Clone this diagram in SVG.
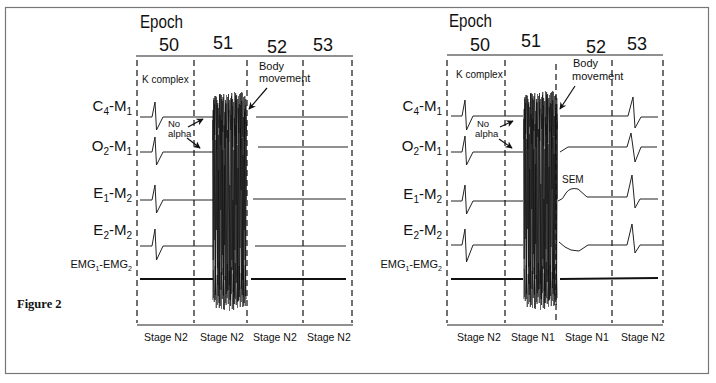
<svg xmlns="http://www.w3.org/2000/svg" xmlns:xlink="http://www.w3.org/1999/xlink" width="716" height="383" viewBox="0 0 716 383">
<style>
.t{font-family:"Liberation Sans",Arial,sans-serif;fill:#111}
.ep{font-size:18px}
.ch{font-size:15px}
.sub{font-size:10px}
.st{font-size:10.5px}
.lb{font-size:10px}
.dash{stroke:#111;stroke-width:1.2;stroke-dasharray:6,4;fill:none}
.ax{stroke:#222;stroke-width:1.2;fill:none}
.tr{stroke:#222;stroke-width:1;fill:none;stroke-linejoin:round}
.emg{stroke:#111;stroke-width:2;fill:none}
.arr{stroke:#111;stroke-width:1.2;fill:none;marker-end:url(#ah)}
.bz{stroke:#111;fill:none;stroke-width:0.6;stroke-linejoin:bevel}
</style>
<defs>
<marker id="ah" viewBox="0 0 10 10" refX="9" refY="5" markerWidth="6" markerHeight="6" orient="auto"><path d="M0,0 L10,5 L0,10 L3,5 z" fill="#111"/></marker>
<g id="burst">
<path class="bz" style="stroke-width:0.4" d="M0,110 L1,298 L2,104 L3,292 L4,97 L5,305 L6,108 L7,289 L8,94 L9,309 L10,101 L11,296 L12,112 L13,303 L14,95 L15,291 L16,103 L17,311 L18,98 L19,294 L20,106 L21,304 L22,92 L23,299 L24,100 L25,308 L26,96 L27,290 L28,105 L29,302 L30,93 L31,297 L32,109 L33,306 L34,115"/>
<path class="bz" d="M0,120 L0.7,260 L1.4,98 L2,190 L2.7,300 L3.4,140 L4.1,230 L4.8,105 L5.4,285 L6.1,170 L6.8,308 L7.5,115 L8.2,210 L8.8,95 L9.5,275 L10.2,150 L10.9,295 L11.6,125 L12.2,245 L12.9,100 L13.6,305 L14.3,180 L15,130 L15.6,290 L16.3,110 L17,220 L17.7,300 L18.4,160 L19,96 L19.7,270 L20.4,200 L21.1,310 L21.8,118 L22.4,250 L23.1,93 L23.8,283 L24.5,145 L25.2,302 L25.8,108 L26.5,235 L27.2,297 L27.9,128 L28.6,190 L29.2,92 L29.9,280 L30.6,155 L31.3,306 L32,112 L32.6,260 L33.3,99 L34,200"/>
<path class="bz" d="M0.3,300 L1,110 L1.7,240 L2.4,96 L3.1,295 L3.7,175 L4.4,100 L5.1,268 L5.8,135 L6.5,303 L7.1,94 L7.8,215 L8.5,290 L9.2,120 L9.9,255 L10.5,97 L11.2,309 L11.9,165 L12.6,280 L13.3,103 L13.9,225 L14.6,298 L15.3,140 L16,94 L16.7,285 L17.3,185 L18,306 L18.7,115 L19.4,260 L20.1,99 L20.7,292 L21.4,150 L22.1,304 L22.8,125 L23.5,205 L24.1,95 L24.8,277 L25.5,168 L26.2,300 L26.9,104 L27.5,248 L28.2,93 L28.9,289 L29.6,138 L30.3,307 L30.9,117 L31.6,230 L32.3,96 L33,296 L33.7,122"/>
<path class="bz" d="M0.25,140 L1.25,100 L2.25,135 L3.25,96 L4.25,150 L5.25,103 L6.25,128 L7.25,95 L8.25,145 L9.25,99 L10.25,132 L11.25,94 L12.25,148 L13.25,104 L14.25,138 L15.25,97 L16.25,142 L17.25,100 L18.25,130 L19.25,93 L20.25,147 L21.25,102 L22.25,136 L23.25,96 L24.25,144 L25.25,99 L26.25,133 L27.25,94 L28.25,149 L29.25,101 L30.25,137 L31.25,97 L32.25,141 L33.25,105 L34,130"/>
<path class="bz" d="M0.75,270 L1.75,302 L2.75,266 L3.75,308 L4.75,275 L5.75,296 L6.75,262 L7.75,306 L8.75,272 L9.75,299 L10.75,268 L11.75,310 L12.75,276 L13.75,294 L14.75,264 L15.75,304 L16.75,271 L17.75,300 L18.75,267 L19.75,309 L20.75,274 L21.75,297 L22.75,263 L23.75,305 L24.75,270 L25.75,301 L26.75,266 L27.75,307 L28.75,273 L29.75,295 L30.75,268 L31.75,303 L32.75,265 L33.75,299"/>
</g>
</defs>
<rect width="716" height="383" fill="#fff"/>
<rect x="5.5" y="7.5" width="703" height="366" fill="none" stroke="#777" stroke-width="1.2"/>

<g id="left-panel">
<g id="left-header">
<text class="t ep" x="140" y="28" textLength="43" lengthAdjust="spacingAndGlyphs">Epoch</text>
<text class="t ep" x="159" y="51">50</text>
<text class="t ep" x="213" y="49">51</text>
<text class="t ep" x="267" y="53">52</text>
<text class="t ep" x="313" y="51">53</text>
<line class="ax" x1="136" y1="56" x2="353" y2="56"/>
<line class="ax" x1="137" y1="325" x2="353" y2="325"/>
</g>
<g id="left-grid">
<line class="dash" x1="137" y1="60" x2="137" y2="323"/>
<line class="dash" x1="194" y1="60" x2="194" y2="323"/>
<line class="dash" x1="247" y1="60" x2="247" y2="323"/>
<line class="dash" x1="303" y1="60" x2="303" y2="323"/>
<line class="dash" x1="352" y1="60" x2="352" y2="323"/>
</g>
<g id="left-labels">
<text class="t ch" x="132" y="111" text-anchor="end">C<tspan class="sub" dy="4">4</tspan><tspan dy="-4">-M</tspan><tspan class="sub" dy="4">1</tspan></text>
<text class="t ch" x="132" y="151" text-anchor="end">O<tspan class="sub" dy="4">2</tspan><tspan dy="-4">-M</tspan><tspan class="sub" dy="4">1</tspan></text>
<text class="t ch" x="132" y="198" text-anchor="end">E<tspan class="sub" dy="4">1</tspan><tspan dy="-4">-M</tspan><tspan class="sub" dy="4">2</tspan></text>
<text class="t ch" x="132" y="235" text-anchor="end">E<tspan class="sub" dy="4">2</tspan><tspan dy="-4">-M</tspan><tspan class="sub" dy="4">2</tspan></text>
<text class="t" style="font-size:11px" x="132" y="268" text-anchor="end">EMG<tspan style="font-size:7px" dy="3">1</tspan><tspan dy="-3">-EMG</tspan><tspan style="font-size:7px" dy="3">2</tspan></text>
<text class="t st" x="144" y="341">Stage N2</text>
<text class="t st" x="200" y="341">Stage N2</text>
<text class="t st" x="253" y="341">Stage N2</text>
<text class="t st" x="307" y="341">Stage N2</text>
<text class="t lb" x="142" y="83">K complex</text>
<text class="t" style="font-size:11px" x="259" y="70">Body</text>
<text class="t" style="font-size:11px" x="259" y="82">movement</text>
<text class="t" style="font-size:9.5px" x="168" y="127">No</text>
<text class="t" style="font-size:9.5px" x="168" y="137">alpha</text>
</g>
<g id="left-traces">
<path class="tr" d="M140,117 L152,117 L155,102 L156.5,130 L163,117 L213,117"/>
<path class="tr" d="M140,152 L152,152 L155,137 L156.5,165 L163,152 L213,152"/>
<path class="tr" d="M140,200 L152,200 L155,185 L156.5,213 L163,200 L213,200"/>
<path class="tr" d="M140,246 L152,246 L155,229 L156.5,260 L163,246 L213,246"/>
<path class="emg" d="M140,279 L213,279"/>
<path class="tr" d="M256,117 L348,117"/>
<path class="tr" d="M258,147 L348,147"/>
<path class="tr" d="M253,199 L346,199"/>
<path class="tr" d="M255,246 L346,246"/>
<path class="emg" d="M251,279 L346,279"/>
<use xlink:href="#burst" href="#burst" transform="translate(212.5,0)"/>
</g>
</g>

<g id="right-panel">
<g id="right-header">
<text class="t ep" x="449" y="27" textLength="43" lengthAdjust="spacingAndGlyphs">Epoch</text>
<text class="t ep" x="470" y="51">50</text>
<text class="t ep" x="521" y="47">51</text>
<text class="t ep" x="586" y="53">52</text>
<text class="t ep" x="627" y="50">53</text>
<line class="ax" x1="447" y1="55" x2="663" y2="55"/>
<line class="ax" x1="447" y1="325" x2="663" y2="325"/>
</g>
<g id="right-grid">
<line class="dash" x1="447" y1="60" x2="447" y2="323"/>
<line class="dash" x1="505" y1="60" x2="505" y2="323"/>
<line class="dash" x1="556" y1="64" x2="556" y2="323"/>
<line class="dash" x1="612" y1="60" x2="612" y2="323"/>
<line class="dash" x1="663" y1="60" x2="663" y2="323"/>
</g>
<g id="right-labels">
<text class="t ch" x="442" y="111" text-anchor="end">C<tspan class="sub" dy="4">4</tspan><tspan dy="-4">-M</tspan><tspan class="sub" dy="4">1</tspan></text>
<text class="t ch" x="442" y="151" text-anchor="end">O<tspan class="sub" dy="4">2</tspan><tspan dy="-4">-M</tspan><tspan class="sub" dy="4">1</tspan></text>
<text class="t ch" x="442" y="199" text-anchor="end">E<tspan class="sub" dy="4">1</tspan><tspan dy="-4">-M</tspan><tspan class="sub" dy="4">2</tspan></text>
<text class="t ch" x="442" y="235" text-anchor="end">E<tspan class="sub" dy="4">2</tspan><tspan dy="-4">-M</tspan><tspan class="sub" dy="4">2</tspan></text>
<text class="t" style="font-size:11px" x="442" y="268" text-anchor="end">EMG<tspan style="font-size:7px" dy="3">1</tspan><tspan dy="-3">-EMG</tspan><tspan style="font-size:7px" dy="3">2</tspan></text>
<text class="t st" x="457" y="341">Stage N2</text>
<text class="t st" x="511" y="341">Stage N1</text>
<text class="t st" x="565" y="341">Stage N1</text>
<text class="t st" x="621" y="341">Stage N2</text>
<text class="t lb" x="456" y="78">K complex</text>
<text class="t" style="font-size:11px" x="573" y="67">Body</text>
<text class="t" style="font-size:11px" x="572" y="80">movement</text>
<text class="t" style="font-size:9.5px" x="477" y="127">No</text>
<text class="t" style="font-size:9.5px" x="475" y="137">alpha</text>
<text class="t lb" x="562" y="183">SEM</text>
</g>
<g id="right-traces">
<path class="tr" d="M451,116 L462,116 L465,100 L466.5,130 L473,116 L523,116"/>
<path class="tr" d="M560,116 L628,116 L633,97 L635,128 L641,117 L658,117"/>
<path class="tr" d="M451,152 L462,152 L465,136 L466.5,165 L473,152 L523,152"/>
<path class="tr" d="M560,152 L568,147 L627,147 L631,133 L635,162 L641,147 L657,147"/>
<path class="tr" d="M451,201 L462,201 L465,185 L466.5,214 L473,201 L523,201"/>
<path class="tr" d="M558,201 Q563,200 566,193 Q570,187 578,189 L587,197 L627,197 L632,175 L635,208 L640,199 L658,199"/>
<path class="tr" d="M451,245 L462,245 L465,229 L466.5,262 L473,245 L523,245"/>
<path class="tr" d="M559,242 Q565,248 571,250 L579,251 L588,245 L627,245 L632,224 L635,253 L640,245 L662,245"/>
<path class="emg" d="M451,279 L523,279"/>
<path class="emg" d="M560,279 L658,278"/>
<use xlink:href="#burst" href="#burst" transform="translate(523.5,-1)"/>
</g>
</g>

<g id="connectors">
<line class="arr" x1="267" y1="88" x2="249" y2="109"/>
<line class="arr" x1="188" y1="127" x2="203" y2="119"/>
<line class="arr" x1="187" y1="138" x2="200" y2="148"/>
<line class="arr" x1="575" y1="86" x2="560" y2="109"/>
<line class="arr" x1="500" y1="127" x2="513" y2="121"/>
<line class="arr" x1="499" y1="139" x2="512" y2="148"/>
</g>

<text x="17" y="308" style="font-family:'Liberation Serif','Times New Roman',serif;font-size:12.5px;font-weight:bold;fill:#111">Figure 2</text>
</svg>
